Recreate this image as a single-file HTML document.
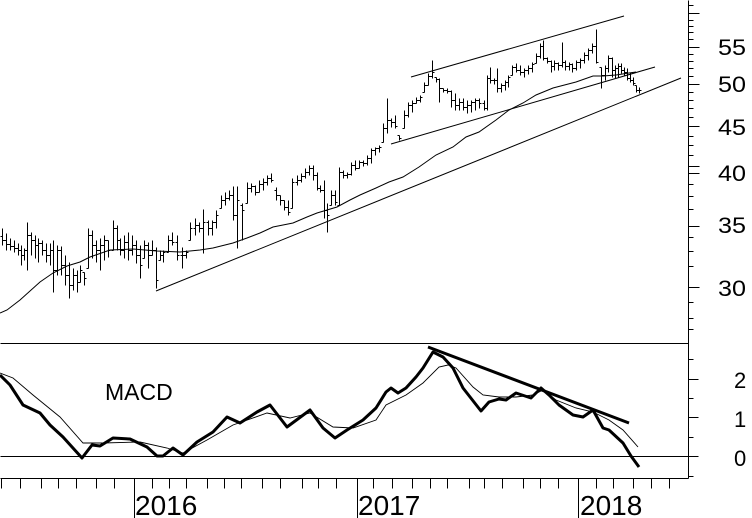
<!DOCTYPE html>
<html><head><meta charset="utf-8"><style>
html,body{margin:0;padding:0;background:#fff;}
svg{display:block;}
text{font-family:"Liberation Sans",Arial,sans-serif;fill:#000;}
</style></head><body>
<svg width="752" height="518" viewBox="0 0 752 518" xmlns="http://www.w3.org/2000/svg">
<rect width="752" height="518" fill="#fff"/>
<g transform="translate(0.5,0.5)" stroke="#000" stroke-width="1" fill="none" shape-rendering="crispEdges">
<!-- axes -->
<path d="M688 0V478M0 343H688M0 456H688M0 478H688"/>
<!-- price ticks -->
<path d="M688 5H693M688 13H699M688 20H693M688 26H693M688 32H693M688 39H693M688 47H699M688 54H693M688 61H693M688 68H693M688 76H693M688 84H699M688 92H693M688 100H693M688 108H693M688 117H693M688 126H699M688 136H693M688 145H693M688 155H693M688 166H699M688 173H699M688 184H693M688 196H693M688 209H693M688 226H699M688 237H693M688 251H693M688 266H693M688 287H699M688 302H693M688 318H693M688 329H693"/>
<!-- MACD ticks -->
<path d="M688 359H693M688 379H698M688 398H693M688 417H698M688 437H693M688 456H698M688 476H693"/>
<!-- month ticks -->
<path d="M1 478V488M20 478V488M41 478V488M58 478V488M76 478V488M96 478V488M114 478V488M152 478V488M169 478V488M186 478V488M207 478V488M224 478V488M241 478V488M262 478V488M280 478V488M302 478V488M318 478V488M336 478V488M373 478V488M392 478V488M412 478V488M430 478V488M447 478V488M469 478V488M484 478V488M502 478V488M523 478V488M540 478V488M558 478V488M596 478V488M613 478V488M633 478V488M651 478V488M669 478V488"/>
<path d="M134 478V518M357 478V518M578 478V518"/>
<!-- price bars -->
<path d="M2 228V245M0 236H2M2 240H4M6 233V250M4 240H6M6 244H8M10 238V250M8 244H10M10 246H12M14 240V252M12 246H14M14 248H16M18 243V255M16 248H18M18 250H20M21 245V265M19 250H21M21 255H23M24 248V260M22 255H24M24 250H26M27 222V270M25 250H27M27 235H29M31 232V255M29 235H31M31 240H33M35 235V258M33 240H35M35 245H37M38 238V262M36 245H38M38 243H40M42 240V255M40 243H42M42 250H44M46 243V262M44 250H46M46 255H48M50 243V265M48 255H50M50 250H52M53 240V292M51 250H53M53 270H55M57 245V275M55 270H57M57 250H59M61 246V275M59 250H61M61 265H63M65 255V285M63 265H65M65 275H67M69 262V298M67 275H69M69 285H71M73 268V290M71 285H73M73 275H75M77 270V292M75 275H77M77 282H79M80 265V282M78 282H80M80 270H82M84 272V285M82 272H84M84 278H86M88 228V268M86 268H88M88 235H90M92 230V258M90 235H92M92 245H94M96 240V262M94 245H96M96 250H98M100 238V270M98 250H100M100 245H102M104 235V260M102 245H104M104 240H106M108 240V257M106 240H108M108 250H110M113 220V250M111 250H113M113 228H115M117 225V250M115 228H117M117 240H119M120 238V255M118 240H120M120 250H122M124 235V258M122 250H124M124 242H126M128 232V260M126 242H128M128 250H130M132 235V255M130 250H132M132 245H134M136 240V263M134 245H136M136 255H138M140 245V278M138 255H140M140 265H142M144 240V258M142 258H144M144 245H146M148 242V268M146 245H148M148 255H150M152 240V255M150 255H152M152 250H154M156 247V288M154 250H156M156 280H158M160 250V260M158 260H160M160 255H162M163 250V262M161 255H163M163 252H165M168 235V252M166 252H168M168 240H170M172 232V245M170 240H172M172 242H174M177 235V260M175 242H177M177 255H179M182 247V268M180 255H182M182 255H184M186 250V258M184 255H186M186 252H188M190 222V240M188 240H190M190 228H192M195 218V235M193 228H195M195 225H197M199 222V232M197 225H199M199 228H201M203 209V253M201 228H203M203 222H205M208 220V235M206 222H208M208 228H210M212 220V235M210 228H212M212 222H214M216 210V228M214 222H216M216 215H218M221 195V208M219 208H221M221 200H223M225 192V205M223 200H225M225 198H227M229 190V200M227 198H229M229 195H231M233 186V220M231 195H233M233 215H235M237 186V248M235 215H237M237 200H239M242 203V240M240 205H242M242 210H244M247 182V203M245 203H247M247 188H249M251 183V192M249 188H251M251 186H253M255 185V195M253 186H255M255 192H257M259 180V192M257 192H259M259 184H261M263 178V190M261 184H263M263 182H265M267 175V185M265 182H267M267 178H269M271 173V182M269 178H271M271 180H273M276 187V200M274 190H276M276 195H278M280 195V205M278 195H280M280 200H282M284 200V210M282 200H284M284 207H286M288 200V215M286 207H288M288 212H290M292 178V208M290 208H292M292 182H294M297 175V185M295 182H297M297 180H299M301 173V182M299 180H301M301 176H303M305 168V178M303 176H305M305 172H307M309 165V175M307 172H309M309 168H311M313 165V180M311 168H313M313 175H315M317 172V190M315 175H317M317 188H319M320 185V192M318 188H320M320 190H322M324 180V218M322 190H324M324 210H326M327 203V232M325 210H327M327 215H329M331 190V205M329 205H331M331 195H333M335 190V205M333 195H335M335 202H337M339 167V205M337 205H339M339 172H341M343 170V178M341 172H343M343 175H345M347 172V178M345 175H347M347 174H349M351 162V175M349 174H351M351 165H353M355 160V170M353 165H355M355 168H357M359 160V168M357 168H359M359 162H361M363 160V166M361 162H363M363 163H365M367 155V165M365 163H367M367 158H369M371 148V163M369 158H371M371 150H373M375 147V155M373 150H375M375 148H377M379 145V152M377 148H379M379 147H381M383 123V142M381 142H383M383 128H385M387 98V133M385 128H387M387 120H389M391 118V127M389 120H391M391 122H393M395 115V128M393 122H395M395 126H397M399 135V140M397 135H399M399 138H401M404 110V128M402 128H404M404 115H406M408 102V117M406 115H408M408 105H410M412 100V112M410 105H412M412 103H414M416 97V103M414 103H416M416 100H418M420 95V102M418 100H420M420 97H422M424 82V92M422 92H424M424 85H426M428 73V85M426 85H428M428 76H430M432 60V78M430 76H432M432 72H434M436 77V82M434 77H436M436 79H438M439 78V102M437 79H439M439 88H441M443 88V92M441 88H443M443 90H445M447 88V93M445 90H447M447 91H449M451 90V107M449 91H451M451 100H453M455 93V110M453 100H455M455 105H457M459 98V110M457 105H459M459 102H461M463 98V110M461 102H463M463 107H465M467 100V113M465 107H467M467 105H469M471 100V112M469 105H471M471 102H473M475 98V110M473 102H475M475 100H477M479 98V108M477 100H479M479 103H481M484 100V110M482 103H484M484 108H486M487 75V110M485 108H487M487 78H489M490 67V83M488 78H490M490 80H492M494 78V84M492 80H494M494 80H496M497 68V92M495 80H497M497 88H499M501 83V92M499 88H501M501 85H503M505 80V90M503 85H505M505 82H507M508 75V87M506 82H508M508 77H510M512 65V75M510 75H512M512 67H514M516 63V72M514 67H516M516 70H518M520 65V75M518 70H520M520 72H522M524 68V77M522 72H524M524 70H526M528 65V74M526 70H528M528 68H530M532 62V72M530 68H532M532 64H534M536 53V63M534 63H536M536 56H538M540 43V58M538 56H540M540 46H542M543 40V60M541 46H543M543 58H545M547 57V63M545 58H547M547 61H549M551 60V72M549 61H551M551 66H553M554 60V70M552 66H554M554 63H556M558 62V70M556 63H558M558 65H560M562 42V67M560 65H562M562 62H564M565 60V70M563 62H565M565 66H567M569 62V70M567 66H569M569 64H571M572 63V72M570 64H572M572 68H574M576 60V70M574 68H576M576 62H578M580 58V68M578 62H580M580 60H582M584 52V63M582 60H584M584 55H586M588 48V60M586 55H588M588 50H590M592 43V53M590 50H592M592 46H594M596 29V63M594 46H596M596 62H598M601 67V88M599 67H601M601 75H603M605 65V80M603 75H605M605 68H607M608 55V72M606 68H608M608 58H610M612 57V77M610 58H612M612 70H614M615 65V78M613 70H615M615 68H617M618 63V77M616 68H618M618 66H620M621 63V73M619 66H621M621 70H623M624 67V75M622 70H624M624 72H626M627 68V80M625 72H627M627 78H629M630 72V82M628 78H630M630 80H632M633 77V85M631 80H633M633 83H635M636 85V92M634 85H636M636 90H638M639 87V93M637 90H639M639 90H641"/>
</g>
<g stroke="#000" fill="none" stroke-width="1">
<!-- moving average -->
<polyline points="0,313 7,310 20,300 40,282 53,273 67,266 80,262 90,257 110,250 133,249 157,251 180,252 200,250 213,248 233,243 247,238 260,233 273,227 283,225 293,223 307,217 317,213 327,210 337,207 350,200 360,195 376,188 389,182 403,177 419,167 436,155 453,147 466,137 479,132 496,120 509,110 523,103 536,95 553,88 576,82 593,76 603,76 616,75 629,73 636,72"/>
<!-- trend lines -->
<line x1="156" y1="291" x2="681" y2="78"/>
<line x1="411" y1="77" x2="624" y2="16"/>
<line x1="391" y1="144" x2="655" y2="67"/>
<!-- MACD signal -->
<polyline stroke-width="0.9" points="0,373 13,378 33,395 60,417 83,443 103,443 140,442 167,448 183,453 207,440 233,425 267,413 290,418 310,413 333,427 353,428 376,420 386,405 406,395 423,383 439,367 448,365 456,368 473,387 483,395 499,397 516,397 533,395 543,390 556,400 576,408 593,412 609,420 623,430 638,447"/>
<!-- MACD line -->
<polyline stroke-width="3" stroke-linejoin="round" points="0,375 10,385 23,405 40,413 50,425 63,437 82,458 92,445 100,446 113,438 130,439 147,447 157,456 163,456 173,448 183,455 197,442 213,432 227,417 240,423 257,412 270,405 287,427 310,410 323,428 335,438 347,430 363,420 376,408 386,392 391,388 398,393 406,388 416,377 423,368 433,352 443,357 453,368 463,388 481,411 489,402 499,399 506,400 516,393 531,398 541,388 549,395 559,405 573,415 583,417 593,410 603,428 609,430 623,443 631,456 639,467"/>
<line x1="428" y1="347" x2="629" y2="423" stroke-width="3"/>
</g>
<!-- labels -->
<g font-size="22">
<text x="718" y="55" textLength="28" lengthAdjust="spacingAndGlyphs">55</text>
<text x="718" y="92" textLength="28" lengthAdjust="spacingAndGlyphs">50</text>
<text x="718" y="135" textLength="28" lengthAdjust="spacingAndGlyphs">45</text>
<text x="718" y="181" textLength="28" lengthAdjust="spacingAndGlyphs">40</text>
<text x="718" y="233" textLength="28" lengthAdjust="spacingAndGlyphs">35</text>
<text x="718" y="296" textLength="28" lengthAdjust="spacingAndGlyphs">30</text>
<text x="734" y="388">2</text>
<text x="734" y="427">1</text>
<text x="734" y="466">0</text>
</g>
<text x="105" y="400" font-size="23">MACD</text>
<g font-size="28">
<text x="135" y="515">2016</text>
<text x="358" y="515">2017</text>
<text x="580" y="515">2018</text>
</g>
</svg>
</body></html>
